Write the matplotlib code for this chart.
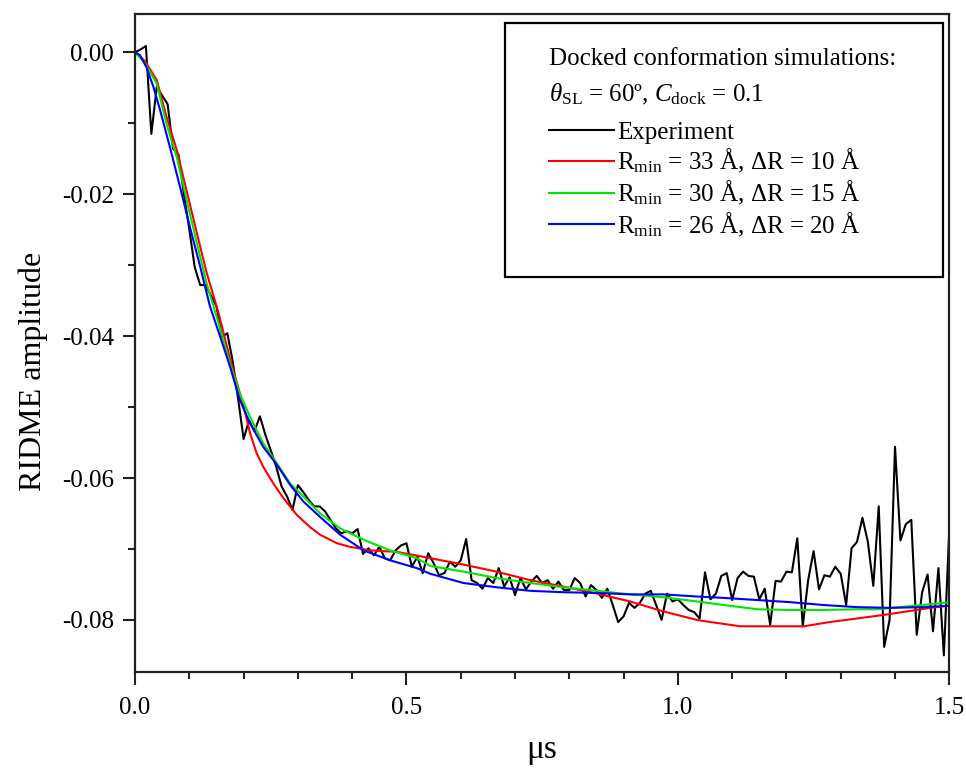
import numpy as np
import matplotlib
matplotlib.use("Agg")
import matplotlib.pyplot as plt
from matplotlib.ticker import MultipleLocator, FormatStrFormatter
from matplotlib.patches import Rectangle

plt.rcParams['font.family'] = ['Liberation Serif', 'DejaVu Serif']
plt.rcParams['mathtext.fontset'] = 'custom'
plt.rcParams['mathtext.rm'] = 'Liberation Serif'
plt.rcParams['mathtext.it'] = 'Liberation Serif:italic'
plt.rcParams['mathtext.bf'] = 'Liberation Serif:bold'
plt.rcParams['axes.unicode_minus'] = False

# ---------------- data ----------------
exp_dt = 0.01
exp_values = [
    0.0, 0.0004, 0.0009, -0.0115, -0.0049, -0.0061, -0.0073, -0.0136, -0.0144, -0.0200,
    -0.0250, -0.0303, -0.0328, -0.0328, -0.0343, -0.0358, -0.0401, -0.0396, -0.0436, -0.0489,
    -0.0545, -0.0519, -0.0534, -0.0513, -0.0539, -0.0561, -0.0584, -0.0612, -0.0626, -0.0645,
    -0.0610, -0.0620, -0.0631, -0.0640, -0.0640, -0.0647, -0.0659, -0.0671, -0.0678, -0.0675,
    -0.0678, -0.0672, -0.0707, -0.0699, -0.0709, -0.0697, -0.0713, -0.0716, -0.0702, -0.0695,
    -0.0692, -0.0725, -0.0711, -0.0734, -0.0706, -0.0720, -0.0737, -0.0734, -0.0718, -0.0725,
    -0.0716, -0.0686, -0.0744, -0.0748, -0.0756, -0.0741, -0.0748, -0.0727, -0.0753, -0.0740,
    -0.0765, -0.0741, -0.0757, -0.0746, -0.0738, -0.0748, -0.0744, -0.0756, -0.0746, -0.0758,
    -0.0758, -0.0741, -0.0748, -0.0767, -0.0751, -0.0758, -0.0769, -0.0756, -0.0779, -0.0803,
    -0.0795, -0.0776, -0.0783, -0.0776, -0.0763, -0.0759, -0.0779, -0.0800, -0.0763, -0.0774,
    -0.0771, -0.0779, -0.0786, -0.0789, -0.0798, -0.0733, -0.0771, -0.0763, -0.0738, -0.0734,
    -0.0772, -0.0741, -0.0732, -0.0738, -0.0739, -0.0771, -0.0756, -0.0807, -0.0745, -0.0746,
    -0.0732, -0.0733, -0.0685, -0.0809, -0.0744, -0.0703, -0.0757, -0.0737, -0.0739, -0.0725,
    -0.0735, -0.0779, -0.0699, -0.0690, -0.0656, -0.0690, -0.0752, -0.0640, -0.0838, -0.0800,
    -0.0556, -0.0688, -0.0665, -0.0659, -0.0821, -0.0761, -0.0736, -0.0816, -0.0727, -0.0850,
    -0.0673,
]
exp_time = np.arange(len(exp_values)) * exp_dt

red_time = [0, 0.018, 0.04, 0.058, 0.077, 0.095, 0.114, 0.132, 0.154, 0.175, 0.2, 0.212,
            0.224, 0.236, 0.255, 0.273, 0.298, 0.322, 0.341, 0.372, 0.396, 0.433, 0.482,
            0.544, 0.605, 0.666, 0.728, 0.789, 0.851, 0.912, 0.973, 1.035, 1.06, 1.115,
            1.176, 1.232, 1.28, 1.33, 1.379, 1.422, 1.465, 1.5]
red_values = [0, -0.0012, -0.0039, -0.0091, -0.0138, -0.0195, -0.0255, -0.0311, -0.0368,
              -0.0432, -0.0499, -0.0537, -0.0565, -0.0584, -0.0608, -0.0628, -0.0652,
              -0.0669, -0.0680, -0.0692, -0.0697, -0.0702, -0.0704, -0.0713, -0.0722,
              -0.0732, -0.0744, -0.0753, -0.0763, -0.0774, -0.0788, -0.0800, -0.0803,
              -0.0809, -0.0809, -0.0809, -0.0803, -0.0798, -0.0793, -0.0788, -0.0783, -0.0780]

green_time = [0, 0.018, 0.04, 0.058, 0.077, 0.095, 0.114, 0.132, 0.154, 0.175, 0.193, 0.212,
              0.236, 0.261, 0.286, 0.31, 0.341, 0.378, 0.421, 0.47, 0.519, 0.544, 0.605,
              0.666, 0.728, 0.789, 0.851, 0.912, 0.973, 1.035, 1.085, 1.146, 1.207, 1.268,
              1.33, 1.367, 1.422, 1.465, 1.5]
green_values = [0, -0.0015, -0.0044, -0.0101, -0.0148, -0.0208, -0.0269, -0.0326, -0.0382,
                -0.0439, -0.0481, -0.0514, -0.0551, -0.0579, -0.0608, -0.0626, -0.0650,
                -0.0671, -0.0687, -0.0702, -0.0713, -0.0724, -0.0732, -0.0741, -0.0748,
                -0.0754, -0.0759, -0.0764, -0.0768, -0.0774, -0.0779, -0.0785, -0.0786,
                -0.0786, -0.0785, -0.0785, -0.0781, -0.0778, -0.0775]

blue_time = [0, 0.009, 0.021, 0.034, 0.046, 0.064, 0.083, 0.101, 0.12, 0.138, 0.157, 0.175,
             0.193, 0.212, 0.236, 0.261, 0.286, 0.31, 0.341, 0.378, 0.421, 0.47, 0.519,
             0.544, 0.605, 0.666, 0.728, 0.789, 0.851, 0.912, 0.973, 1.035, 1.085, 1.146,
             1.207, 1.268, 1.33, 1.39, 1.453, 1.5]
blue_values = [0, -0.0004, -0.0021, -0.0049, -0.0081, -0.0133, -0.0190, -0.0246, -0.0302,
               -0.0358, -0.0401, -0.0443, -0.0490, -0.0523, -0.0556, -0.0581, -0.0610,
               -0.0633, -0.0655, -0.0680, -0.0702, -0.0716, -0.0727, -0.0735, -0.0748,
               -0.0754, -0.0759, -0.0761, -0.0762, -0.0764, -0.0764, -0.0767, -0.0769,
               -0.0772, -0.0775, -0.0779, -0.0782, -0.0783, -0.0782, -0.0780]

labels = ['Experiment',
          r'R$_{\mathrm{min}}$ = 33 Å, ΔR = 10 Å',
          r'R$_{\mathrm{min}}$ = 30 Å, ΔR = 15 Å',
          r'R$_{\mathrm{min}}$ = 26 Å, ΔR = 20 Å']
legend_title = ('Docked conformation simulations:\n'
                r'$\theta_{\mathrm{SL}}$ = 60º, $C_{\mathrm{dock}}$ = 0.1')
x_label = 'μs'
y_label = 'RIDME amplitude'

# ---------------- figure ----------------
fig = plt.figure(figsize=(9.66, 7.71), dpi=100)
ax = fig.add_axes([0.1398, 0.1288, 0.9827 - 0.1398, 0.9818 - 0.1288])

l0, = ax.plot(exp_time, exp_values, color='black', lw=1.5, label=labels[0], zorder=2)
l1, = ax.plot(red_time, red_values, color='#ff0000', lw=1.5, label=labels[1], zorder=2.1)
l2, = ax.plot(green_time, green_values, color='#00e600', lw=1.5, label=labels[2], zorder=2.2)
l3, = ax.plot(blue_time, blue_values, color='#0000ff', lw=1.5, label=labels[3], zorder=2.3)

ax.set_xlim(0, 1.5)
ax.set_ylim(-0.0873, 0.0054)

ax.xaxis.set_major_locator(MultipleLocator(0.5))
ax.xaxis.set_minor_locator(MultipleLocator(0.1))
ax.yaxis.set_major_locator(MultipleLocator(0.02))
ax.yaxis.set_minor_locator(MultipleLocator(0.01))
ax.xaxis.set_major_formatter(FormatStrFormatter('%.1f'))
ax.yaxis.set_major_formatter(FormatStrFormatter('%.2f'))

for s in ax.spines.values():
    s.set_linewidth(1.6)
    s.set_color('#222222')

ax.tick_params(axis='both', which='major', direction='out', length=9, width=1.5,
               labelsize=18, pad=6, color='#222222')
ax.tick_params(axis='both', which='minor', direction='out', length=5, width=1.5,
               color='#222222')
ax.tick_params(axis='x', which='major', pad=9)

ax.set_xlabel(x_label, fontsize=24)
ax.set_ylabel(y_label, fontsize=23)
ax.xaxis.set_label_coords(0.5, -0.095)
ax.yaxis.set_label_coords(-0.107, 0.456)

frame = Rectangle((0.4544, 0.600), 0.538, 0.386, transform=ax.transAxes,
                  facecolor='white', edgecolor='black', lw=1.6, zorder=3)
ax.add_patch(frame)

ax.text(0.508, 0.949, legend_title, transform=ax.transAxes, fontsize=18,
        ha='left', va='top', linespacing=1.62, zorder=4)

leg = ax.legend(handles=[l0, l1, l2, l3], loc='upper left', bbox_to_anchor=(0.508, 0.837),
                frameon=False, fontsize=18, borderpad=0, borderaxespad=0, handlelength=2.6,
                handletextpad=0.15, labelspacing=0.14)
leg.set_zorder(4)

fig.savefig('out.png', dpi=100)
